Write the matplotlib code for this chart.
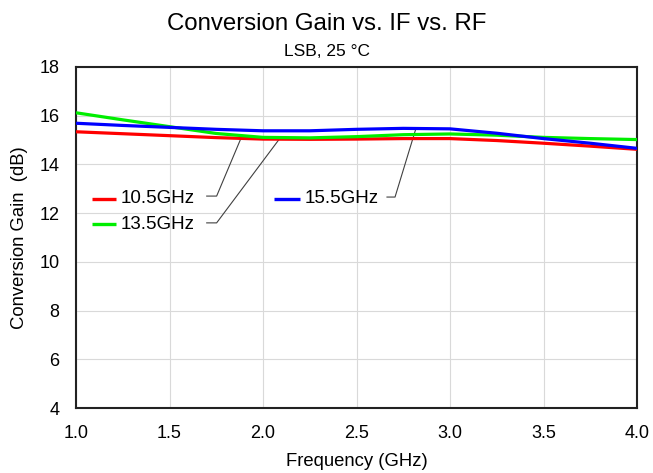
import matplotlib.pyplot as plt
import numpy as np

plt.rcParams['font.family'] = ['Liberation Sans', 'DejaVu Sans']

freq_ghz = [1.0, 1.25, 1.5, 1.75, 2.0, 2.25, 2.5, 2.75, 3.0, 3.25, 3.5, 3.75, 4.0]
gain_10p5 = [15.34, 15.26, 15.18, 15.10, 15.04, 15.03, 15.04, 15.06, 15.06, 14.98, 14.87, 14.75, 14.62]
gain_13p5 = [16.12, 15.83, 15.55, 15.27, 15.11, 15.09, 15.14, 15.22, 15.25, 15.20, 15.11, 15.06, 15.02]
gain_15p5 = [15.69, 15.60, 15.52, 15.44, 15.38, 15.38, 15.44, 15.48, 15.46, 15.28, 15.06, 14.87, 14.66]

series = [
    ("10.5GHz", gain_10p5, "#ff0000"),
    ("13.5GHz", gain_13p5, "#00ee00"),
    ("15.5GHz", gain_15p5, "#0000ff"),
]

# label layout: key line x0, x1, y, leader hook x0, x1, y, leader end x, y
label_layout = {
    "10.5GHz": (1.084, 1.214, 12.59, 1.699, 1.752, 12.70, 1.882, 15.07),
    "13.5GHz": (1.084, 1.214, 11.55, 1.699, 1.752, 11.60, 2.094, 15.11),
    "15.5GHz": (2.059, 2.198, 12.59, 2.663, 2.706, 12.66, 2.818, 15.48),
}

fig = plt.figure(figsize=(6.53, 4.73), dpi=100)
ax = fig.add_axes([0.1164, 0.1374, 0.8591, 0.7210])

for name, vals, col in series:
    ax.plot(freq_ghz, vals, color=col, lw=2.3, solid_capstyle='butt', zorder=3)

for name, vals, col in series:
    kx0, kx1, ky, hx0, hx1, hy, tx, ty = label_layout[name]
    ax.plot([kx0, kx1], [ky, ky], color=col, lw=2.4, solid_capstyle='butt', zorder=3)
    ax.text(kx1 + 0.025, ky, name, fontsize=13.5, va='center', ha='left', zorder=4)
    ax.plot([hx0, hx1, tx], [hy, hy, ty], color='#404040', lw=0.8, zorder=2)

ax.set_xlim(1.0, 4.0)
ax.set_ylim(4, 18)
ax.set_xticks(np.arange(1.0, 4.01, 0.5))
ax.set_yticks(np.arange(4, 18.1, 2))
ax.set_xticklabels([f"{v:.1f}" for v in np.arange(1.0, 4.01, 0.5)])
ax.tick_params(length=0, labelsize=13)
ax.tick_params(axis='x', pad=12.5)
ax.tick_params(axis='y', pad=12)
ax.grid(True, color='#d9d9d9', lw=0.8)
ax.set_axisbelow(True)
for s in ax.spines.values():
    s.set_linewidth(1.5)
    s.set_color('#222222')

ax.set_xlabel("Frequency (GHz)", fontsize=13.3, labelpad=8)
ax.set_ylabel("Conversion Gain  (dB)", fontsize=13.3, labelpad=8)

fig.text(0.5, 1 - 30 / 473, "Conversion Gain vs. IF vs. RF", ha='center', va='baseline', fontsize=17.3)
fig.text(0.5, 1 - 56 / 473, "LSB, 25 °C", ha='center', va='baseline', fontsize=12.5)

fig.savefig("out.png", dpi=100)
